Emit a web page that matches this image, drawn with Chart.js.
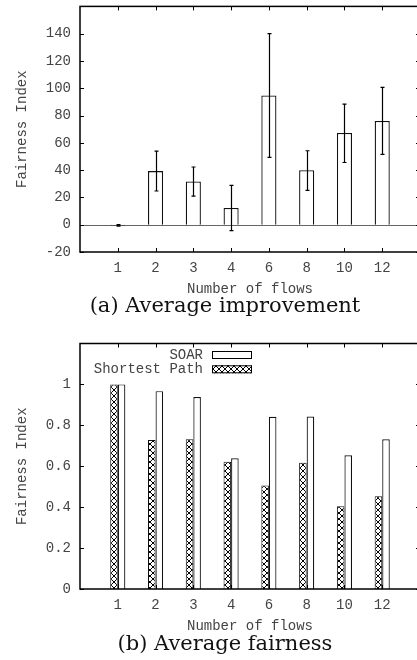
<!DOCTYPE html>
<html>
<head>
<meta charset="utf-8">
<script src="https://cdn.jsdelivr.net/npm/chart.js@4"></script>
<style>
    html, body { margin: 0; padding: 0; background: #fff; overflow: hidden; }
    body { width: 417px; height: 660px; position: relative; }
    .panel { position: absolute; left: 0; width: 430px; height: 330px; }
    .caption {
        position: absolute; left: 0; width: 450px; text-align: center;
        font-family: 'DejaVu Serif', serif; font-size: 21px; line-height: 26px;
        color: #111; white-space: nowrap;
    }
</style>
</head>
<body>
<div class="panel" style="top:0"><canvas id="chart-improvement"></canvas></div>
<div class="caption" style="top:292px">(a) Average improvement</div>
<div class="panel" style="top:330px"><canvas id="chart-fairness"></canvas></div>
<div class="caption" style="top:630px">(b) Average fairness</div>

<script>
/* ---------- data ---------- */
const flows = ['1', '2', '3', '4', '6', '8', '10', '12'];

// (a) average improvement with error bars
const improvement     = [-0.5, 39.3, 31.7, 12.2, 94.7, 40.0, 67.2, 76.0];
const improvementLow  = [-1.0, 24.7, 21.0, -4.4, 49.3, 25.1, 45.6, 51.5];
const improvementHigh = [ 0.0, 53.9, 42.3, 28.8, 140.1, 54.2, 88.4, 100.6];

// (b) average fairness
const soarFairness     = [1.0, 0.967, 0.938, 0.639, 0.842, 0.843, 0.654, 0.732];
const shortestFairness = [1.0, 0.728, 0.732, 0.622, 0.506, 0.617, 0.405, 0.453];

/* ---------- shared style ---------- */
const MONO = "'Liberation Mono', 'Courier New', monospace";
const LABEL_COLOR = '#444';

// gnuplot style: empty slot on each side of the categories
const paddedLabels = ['', ...flows, ''];
const pad = arr => [null, ...arr, null];

// crosshatch fill for "Shortest Path"
function makeHatch() {
    const n = 6;
    const c = document.createElement('canvas');
    c.width = n; c.height = n;
    const g = c.getContext('2d');
    g.fillStyle = '#fff';
    g.fillRect(0, 0, n, n);
    g.fillStyle = '#000';
    for (let i = 0; i < n; i++) {
        g.fillRect(i, i, 1, 1);
        g.fillRect(i, n - 1 - i, 1, 1);
    }
    return g.createPattern(c, 'repeat');
}
const hatch = makeHatch();

// frame, inward tick marks and optional zero line
const gnuplotFrame = {
    id: 'gnuplotFrame',
    beforeDatasetsDraw(chart, args, opts) {
        if (!opts.zeroLine) return;
        const { ctx, chartArea: a, scales: { y } } = chart;
        const py = Math.round(y.getPixelForValue(0)) + 0.5;
        ctx.save();
        ctx.strokeStyle = '#666';
        ctx.lineWidth = 1;
        ctx.beginPath();
        ctx.moveTo(a.left, py);
        ctx.lineTo(a.right, py);
        ctx.stroke();
        ctx.restore();
    },
    afterDatasetsDraw(chart) {
        const { ctx, chartArea: a, scales: { x, y } } = chart;
        ctx.save();
        ctx.strokeStyle = '#000';
        ctx.lineWidth = 1;
        ctx.beginPath();
        x.ticks.forEach((t, i) => {
            if (!t.label) return;
            const px = Math.round(x.getPixelForTick(i)) + 0.5;
            ctx.moveTo(px, a.bottom); ctx.lineTo(px, a.bottom - 4);
            ctx.moveTo(px, a.top); ctx.lineTo(px, a.top + 4);
        });
        y.ticks.forEach((t, i) => {
            if (t.label === '') return;
            const py = Math.round(y.getPixelForTick(i)) + 0.5;
            ctx.moveTo(a.left, py); ctx.lineTo(a.left + 4, py);
            ctx.moveTo(a.right, py); ctx.lineTo(a.right - 4, py);
        });
        ctx.stroke();
        ctx.lineWidth = 1.5;
        ctx.strokeRect(a.left, a.top, a.width, a.height);
        ctx.restore();
    }
};

// error bars for panel (a)
const errorBars = {
    id: 'errorBars',
    afterDatasetsDraw(chart, args, opts) {
        if (!opts.low) return;
        const { ctx, scales: { y } } = chart;
        const meta = chart.getDatasetMeta(0);
        ctx.save();
        ctx.strokeStyle = '#000';
        ctx.lineWidth = 1.2;
        ctx.beginPath();
        opts.low.forEach((lo, i) => {
            const el = meta.data[i + 1];
            if (!el) return;
            const px = Math.round(el.x) + 0.5;
            const y0 = y.getPixelForValue(lo);
            const y1 = y.getPixelForValue(opts.high[i]);
            ctx.moveTo(px, y0); ctx.lineTo(px, y1);
            ctx.moveTo(px - 2, y0); ctx.lineTo(px + 2, y0);
            ctx.moveTo(px - 2, y1); ctx.lineTo(px + 2, y1);
        });
        ctx.stroke();
        ctx.restore();
    }
};

// gnuplot-like legend: text on the left, sample box on the right
const boxLegend = {
    id: 'boxLegend',
    afterDraw(chart, args, opts) {
        if (!opts.items) return;
        const { ctx } = chart;
        ctx.save();
        ctx.font = `14px ${MONO}`;
        ctx.textAlign = 'right';
        ctx.textBaseline = 'middle';
        opts.items.forEach((item, k) => {
            const ds = chart.data.datasets[item];
            const cy = opts.y + k * opts.step;
            ctx.fillStyle = LABEL_COLOR;
            ctx.fillText(ds.label, opts.x, cy);
            ctx.fillStyle = ds.backgroundColor;
            ctx.fillRect(opts.x + 9, cy - 4, 40, 8);
            ctx.strokeStyle = '#000';
            ctx.lineWidth = 1;
            ctx.strokeRect(opts.x + 9.5, cy - 3.5, 39, 7);
        });
        ctx.restore();
    }
};

function makeScales(yOpts, xHeight, titlePad) {
    return {
        x: {
            type: 'category',
            offset: false,
            grid: { display: false, drawTicks: false },
            border: { display: false },
            ticks: { color: LABEL_COLOR, font: { family: MONO, size: 14 }, padding: 8, maxRotation: 0, autoSkip: false },
            title: { display: true, text: 'Number of flows', color: LABEL_COLOR, font: { family: MONO, size: 14 }, padding: { top: 0, bottom: titlePad } },
            afterFit(s) { s.height = xHeight; s.paddingLeft = 0; s.paddingRight = 0; }
        },
        y: Object.assign({
            grid: { display: false, drawTicks: false },
            border: { display: false },
            title: { display: true, text: 'Fairness Index', color: LABEL_COLOR, font: { family: MONO, size: 14 }, padding: { top: 13.6, bottom: 0 } },
            afterFit(s) { s.width = 80; s.paddingTop = 0; s.paddingBottom = 0; }
        }, yOpts)
    };
}

/* ---------- (a) average improvement ---------- */
new Chart(document.getElementById('chart-improvement'), {
    type: 'bar',
    data: {
        labels: paddedLabels,
        datasets: [{
            label: 'Improvement',
            data: pad(improvement),
            backgroundColor: '#fff',
            borderColor: '#111',
            borderWidth: 1.3,
            categoryPercentage: 0.4,
            barPercentage: 1
        }]
    },
    options: {
        responsive: true,
        maintainAspectRatio: false,
        animation: false,
        layout: { padding: { top: 6.4, right: 10, bottom: 0, left: 0 } },
        plugins: {
            legend: { display: false },
            tooltip: { enabled: false },
            gnuplotFrame: { zeroLine: true },
            errorBars: { low: improvementLow, high: improvementHigh }
        },
        scales: makeScales({
            min: -20, max: 160,
            ticks: {
                stepSize: 20, color: LABEL_COLOR, font: { family: MONO, size: 14 }, padding: 9,
                callback: v => (v > 150 ? '' : String(Math.round(v)))
            }
        }, 78, 32.6)
    },
    plugins: [gnuplotFrame, errorBars]
});

/* ---------- (b) average fairness ---------- */
new Chart(document.getElementById('chart-fairness'), {
    type: 'bar',
    data: {
        labels: paddedLabels,
        datasets: [
            {
                label: 'Shortest Path',
                data: pad(shortestFairness),
                backgroundColor: hatch,
                borderColor: '#111',
                borderWidth: 1,
                categoryPercentage: 0.4,
                barPercentage: 1
            },
            {
                label: 'SOAR',
                data: pad(soarFairness),
                backgroundColor: '#fff',
                borderColor: '#111',
                borderWidth: 1.2,
                categoryPercentage: 0.4,
                barPercentage: 1
            }
        ]
    },
    options: {
        responsive: true,
        maintainAspectRatio: false,
        animation: false,
        layout: { padding: { top: 13.5, right: 10, bottom: 0, left: 0 } },
        plugins: {
            legend: { display: false },
            tooltip: { enabled: false },
            boxLegend: { items: [1, 0], x: 203, y: 25, step: 14.3 }
        },
        scales: makeScales({
            min: 0, max: 1.2,
            ticks: {
                stepSize: 0.2, color: LABEL_COLOR, font: { family: MONO, size: 14 }, padding: 9,
                callback: v => (v > 1.1 ? '' : String(Number(v.toFixed(2))))
            }
        }, 71, 24.9)
    },
    plugins: [gnuplotFrame, boxLegend]
});
</script>
</body>
</html>
